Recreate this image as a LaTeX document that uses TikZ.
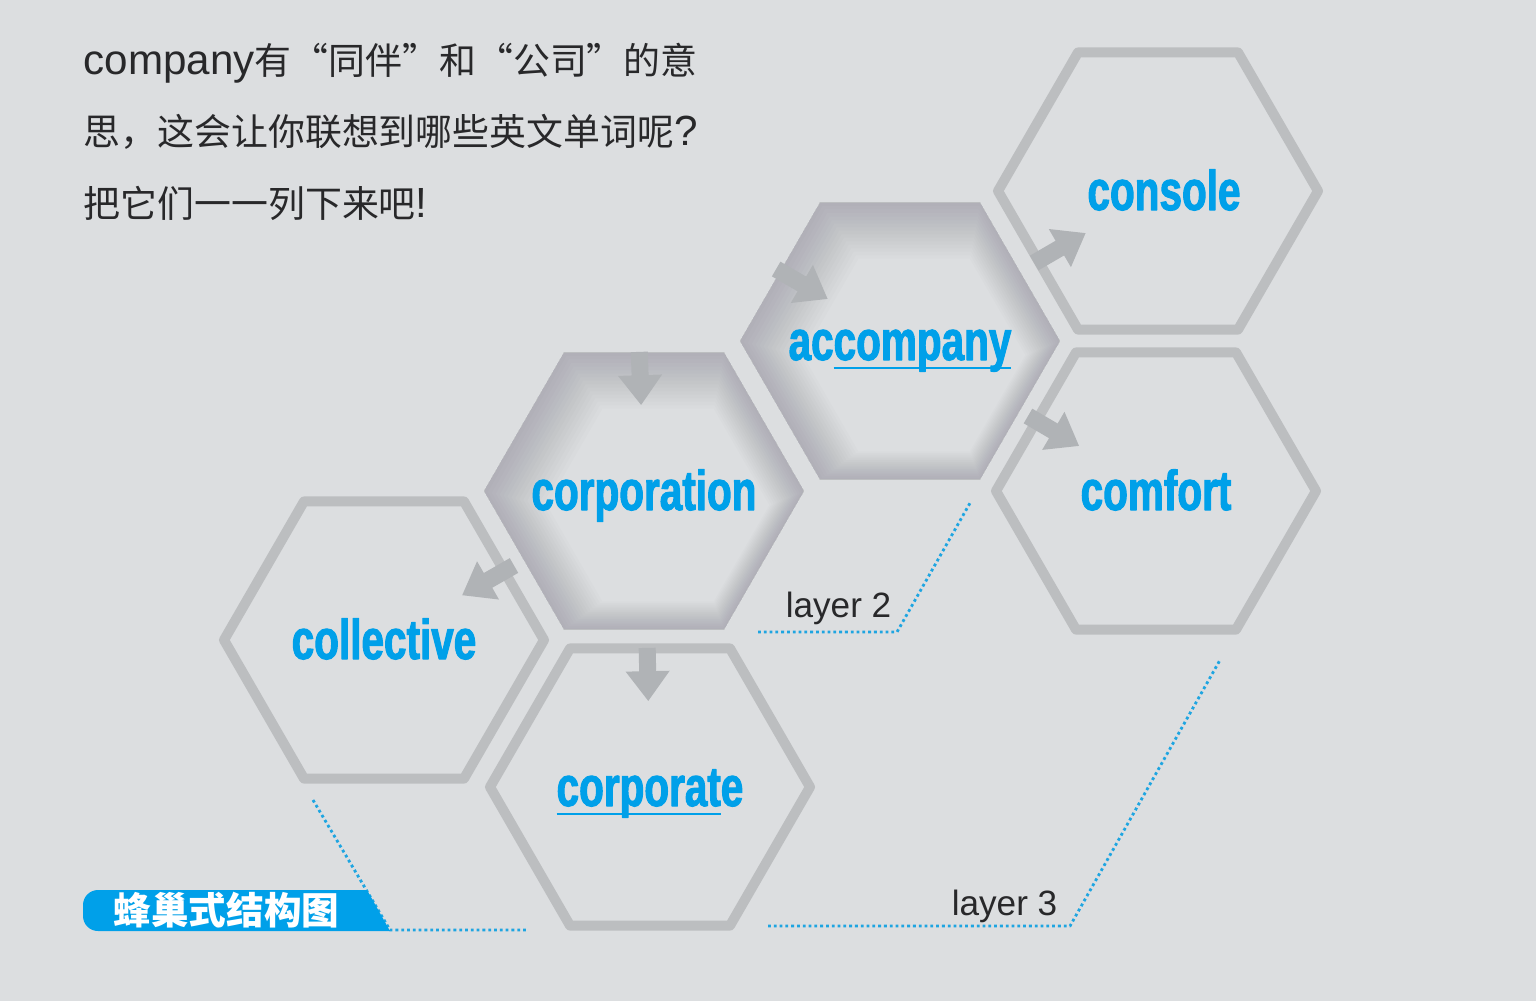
\documentclass[tikz,border=0pt]{standalone}
\usepackage{fontspec}
\setmainfont{Liberation Sans}
\newfontfamily\cjk{Noto Sans CJK SC}
\newfontfamily\latinfont{Liberation Sans}
\newfontfamily\wordfont[FakeStretch=0.72,FakeBold=1.8]{Liberation Sans Bold}
\usetikzlibrary{shapes.geometric,arrows.meta,calc}
\definecolor{bgc}{RGB}{220,222,224}
\definecolor{hexgray}{RGB}{188,190,192}
\definecolor{arrowgray}{RGB}{176,179,182}
\definecolor{wordblue}{RGB}{0,160,233}
\definecolor{dotblue}{RGB}{30,165,225}
\definecolor{inkgray}{RGB}{40,40,42}
\definecolor{shadowc}{RGB}{60,55,75}
% underline that cuts through the descenders
\newcommand\wordline[1]{\setbox0\hbox{#1}\rlap{\vrule height -1.9pt depth 2.5pt width \wd0}\box0}
\newcommand\latin[1]{{\latinfont\fontsize{12pt}{14pt}\selectfont #1}}

\begin{document}
\begin{tikzpicture}[line join=round,
    hexline/.style={regular polygon, regular polygon sides=6, minimum size=3.2cm, inner sep=0pt,
      draw=hexgray, line width=0.1cm, text=wordblue,
      font=\wordfont\fontsize{16pt}{18pt}\selectfont, text height=0.42cm, text depth=0.04cm},
    hexshade/.style={hexline, draw=none},
    fatarrow/.style={draw=arrowgray, line width=0.17cm, -{Triangle[width=0.42cm,length=0.3cm]}},
    leader/.style={dotblue, line width=0.8pt, dash pattern=on 0.8pt off 0.85pt},
    intro/.style={text=inkgray, font=\cjk\fontsize{10.5pt}{12pt}\selectfont, anchor=base west, inner sep=0pt},
    layertext/.style={text=inkgray, font=\latinfont\fontsize{10pt}{12pt}\selectfont, anchor=base east, inner sep=0pt}]
	\fill[bgc] (0,0) rectangle (15.36,-10.01);
	\useasboundingbox (0,0) rectangle (15.36,-10.01);

	% question
	\node[intro] (q1) at (0.83,-0.74) {\latin{company}有“同伴”和“公司”的意};
	\node[intro] (q2) at (0.83,-1.45) {思，这会让你联想到哪些英文单词呢\latin{?}};
	\node[intro] (q3) at (0.83,-2.17) {把它们一一列下来吧\latin{!}};

	% layer leaders
	\coordinate (L2a) at (7.58,-6.32);
	\coordinate (L2b) at (8.97,-6.32);
	\coordinate (L2c) at (9.70,-5.03);
	\coordinate (L3a) at (7.68,-9.26);
	\coordinate (L3b) at (10.70,-9.26);
	\coordinate (L3c) at (12.20,-6.60);
	\coordinate (T1) at (3.13,-8.00);
	\coordinate (T2) at (3.90,-9.30);
	\coordinate (T3) at (5.28,-9.30);
	\draw[leader] (L2a) -- (L2b) -- (L2c);
	\draw[leader] (L3a) -- (L3b) -- (L3c);
	\draw[leader] (T1) -- (T2) -- (T3);
	\node[layertext] (lay2) at (8.92,-6.17) {layer 2};
	\node[layertext] (lay3) at (10.58,-9.15) {layer 3};

	% tag
	\fill[wordblue] (3.90,-9.31) [rounded corners=0.15cm] -- (0.83,-9.31) -- (0.83,-8.90) [sharp corners] -- (3.67,-8.90) -- cycle;
	\node[text=white, font=\cjk\bfseries\fontsize{10.7pt}{12pt}\selectfont, anchor=base west, inner sep=0pt] (tag) at (1.13,-9.24) {蜂巢式结构图};

	% recessed cells
	\foreach \x/\y in {6.44/-4.91, 9.00/-3.41} {
		\begin{scope}[shift={(\x,\y)}]
			\clip (0:1.6)--(60:1.6)--(120:1.6)--(180:1.6)--(240:1.6)--(300:1.6)--cycle;
			\foreach \k in {1,...,16}
				\draw[shadowc, opacity=0.014, line width=\k*1.5pt, xshift=\k*0.25pt, yshift=-\k*0.25pt]
					(0:1.6)--(60:1.6)--(120:1.6)--(180:1.6)--(240:1.6)--(300:1.6)--cycle;
		\end{scope}
	}

	% honeycomb
	\node[hexshade] (corporation) at (6.44,-4.91) {corporation};
	\node[hexshade] (accompany) at (9.00,-3.41) {ac\wordline{company}};
	\node[hexline] (console) at (11.58,-1.91) {\hspace{0.12cm}console};
	\node[hexline] (comfort) at (11.56,-4.91) {comfort};
	\node[hexline] (collective) at (3.84,-6.40) {collective};
	\node[hexline] (corporate) at (6.50,-7.87) {\wordline{corporat}e};

	% arrows
	\coordinate (src1) at (6.34,-1.95);
	\coordinate (src2) at (6.42,-1.91);
	\draw[fatarrow] ($(src1)!0.53!(corporation)$) -- ($(src1)!0.71!(corporation)$);
	\draw[fatarrow] ($(src2)!0.52!(accompany)$) -- ($(src2)!0.72!(accompany)$);
	\draw[fatarrow] ($(accompany)!0.52!(console)$) -- ($(accompany)!0.72!(console)$);
	\draw[fatarrow] ($(accompany)!0.5!(comfort)$) -- ($(accompany)!0.7!(comfort)$);
	\draw[fatarrow] ($(corporation)!0.5!(collective)$) -- ($(corporation)!0.7!(collective)$);
	\draw[fatarrow] ($(corporation)!0.53!(corporate)$) -- ($(corporation)!0.71!(corporate)$);
\end{tikzpicture}
\end{document}
